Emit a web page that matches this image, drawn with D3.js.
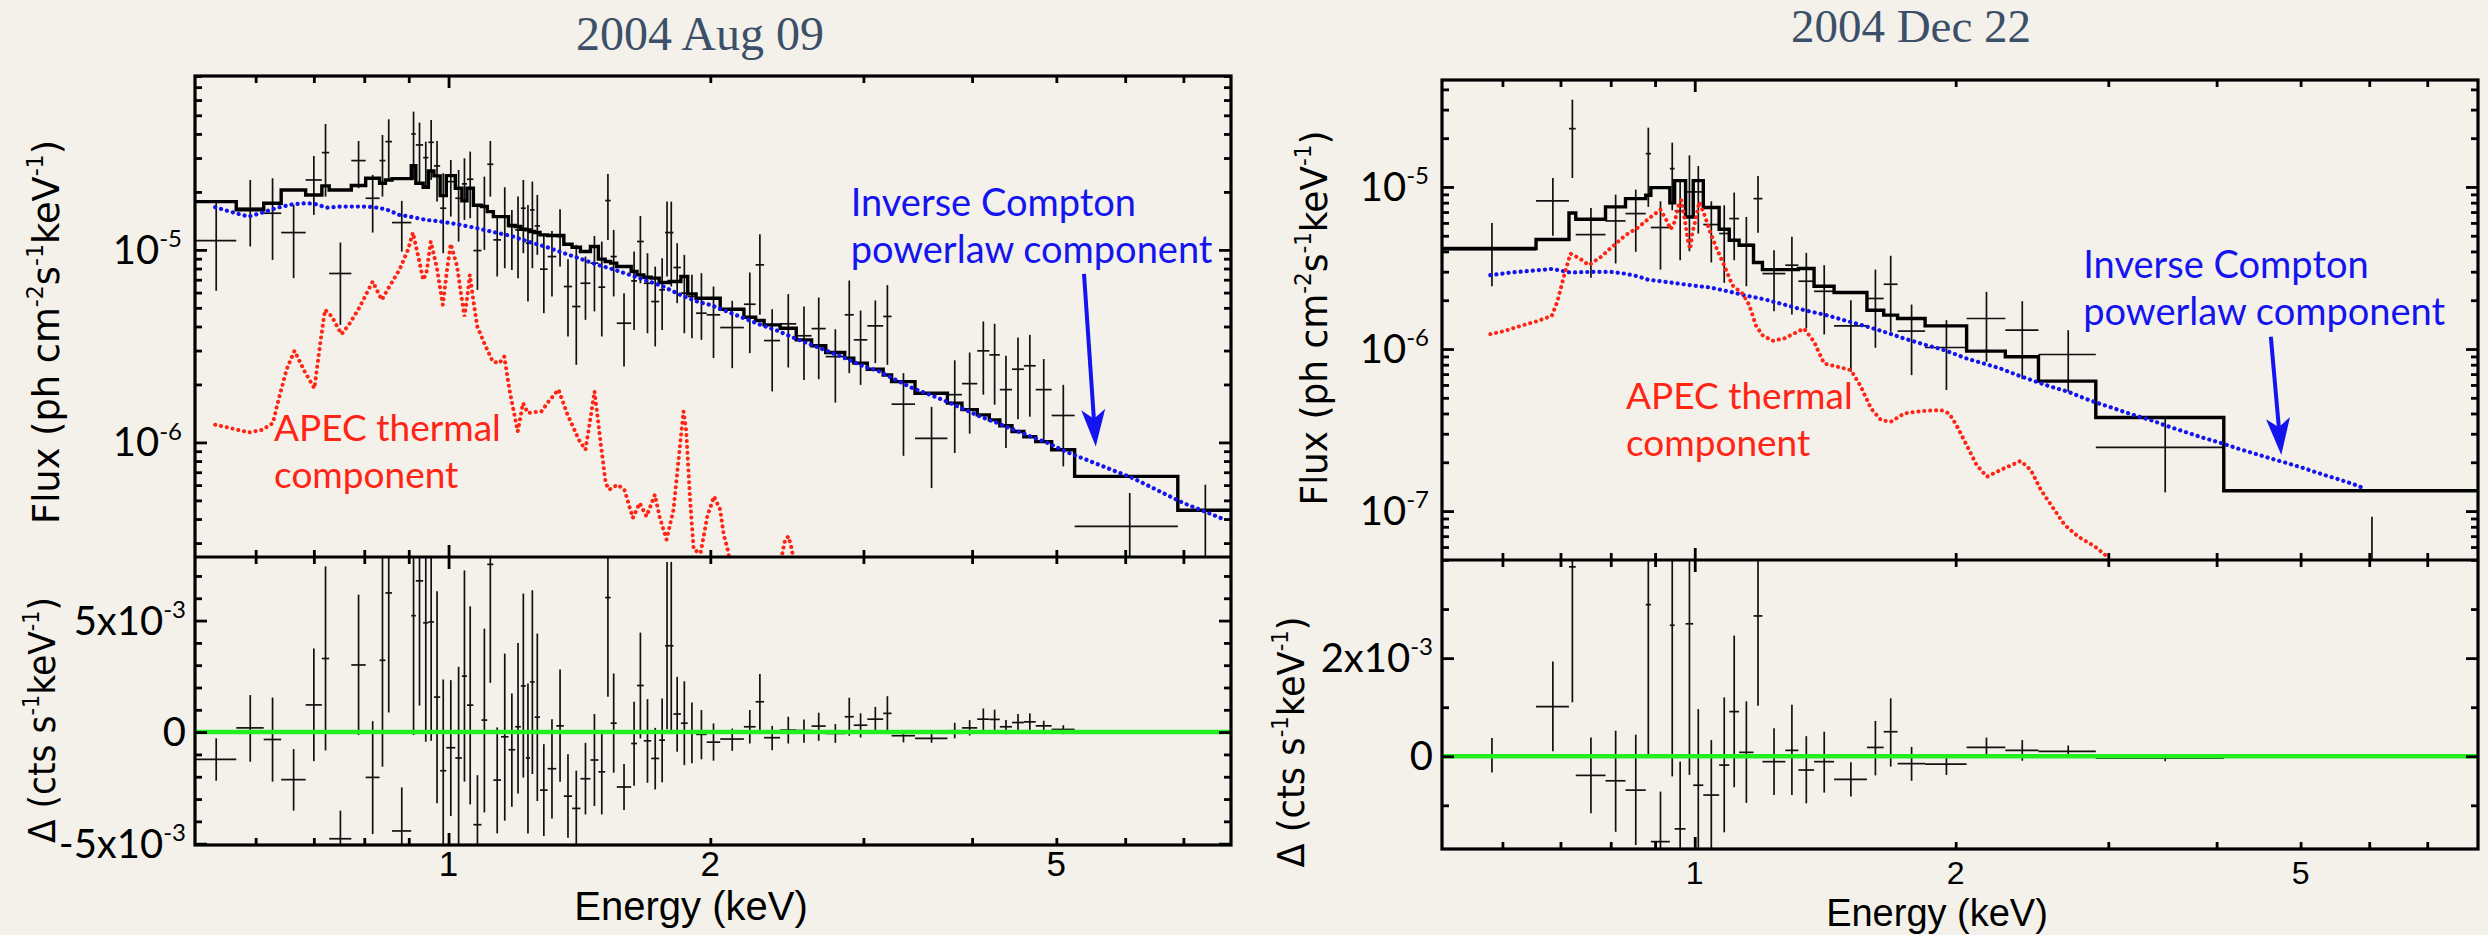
<!DOCTYPE html>
<html>
<head>
<meta charset="utf-8">
<script src="https://cdn.jsdelivr.net/npm/d3@7"></script>
<style>
  body { margin: 0; background: #f4f1ea; }
  svg { display: block; }
</style>
</head>
<body>
<svg id="chart" width="2488" height="935"></svg>
<script>
const FU = 1e-5   // flux arrays: units of 1e-5 ph cm^-2 s^-1 keV^-1
const RU = 1e-3   // residual arrays: units of 1e-3 cts s^-1 keV^-1

// ---------- 2004 Aug 09 ----------
const augEdges = [0.511, 0.570, 0.613, 0.642, 0.685, 0.715, 0.729, 0.773, 0.803, 0.833, 0.846, 0.861, 0.906, 0.917, 0.935, 0.948, 0.962, 0.978, 0.994, 1.018,
  1.036, 1.050, 1.068, 1.091, 1.108, 1.126, 1.149, 1.172, 1.193, 1.211, 1.227, 1.241, 1.256, 1.274, 1.300, 1.330, 1.357, 1.387, 1.418, 1.456,
  1.487, 1.514, 1.536, 1.561, 1.622, 1.647, 1.677, 1.710, 1.747, 1.774, 1.793, 1.814, 1.850, 1.884, 1.926, 1.981, 2.053, 2.186, 2.255, 2.306,
  2.406, 2.511, 2.615, 2.715, 2.855, 2.924, 3.031, 3.161, 3.232, 3.439, 3.747, 3.894, 4.055, 4.187, 4.305, 4.446, 4.588, 4.734, 4.938, 5.248,
  6.897, 7.94]
const augModel = [1.781, 1.613, 1.747, 2.048, 1.929, 2.149, 2.048, 2.158, 2.355, 2.218, 2.308, 2.346, 2.740, 2.218, 2.115, 2.570, 2.422, 1.914, 2.431, 2.090,
  1.796, 2.090, 1.705, 1.679, 1.581, 1.489, 1.489, 1.338, 1.322, 1.280, 1.270, 1.245, 1.230, 1.196, 1.187, 1.187, 1.070, 1.032, 0.980, 1.041,
  0.895, 0.870, 0.853, 0.819, 0.772, 0.742, 0.721, 0.713, 0.677, 0.677, 0.685, 0.685, 0.727, 0.591, 0.561, 0.561, 0.492, 0.447, 0.430, 0.408,
  0.392, 0.341, 0.318, 0.293, 0.274, 0.258, 0.240, 0.224, 0.207, 0.180, 0.160, 0.148, 0.139, 0.131, 0.122, 0.114, 0.107, 0.101, 0.0916, 0.0666, 0.0444]
const augFlux = [1.118, 1.646, 1.550, 1.230, 2.308, 3.200, 0.754, 2.909, 1.854, 2.909, 3.650, 1.386, 4.000, 3.508, 3.014, 3.621, 2.729, 1.646, 2.262, 1.854,
  2.201, 2.327, 0.992, 1.679, 2.784, 1.127, 1.489, 1.322, 1.270, 1.646, 1.083, 1.613, 1.332, 0.794, 0.923, 1.173, 0.645, 0.508, 0.671, 0.853,
  0.640, 1.803, 0.923, 0.416, 0.690, 1.105, 0.671, 0.539, 0.620, 1.230, 1.230, 0.810, 0.596, 0.573, 0.469, 0.460, 0.395, 0.522, 0.836, 0.338,
  0.413, 0.358, 0.390, 0.279, 0.460, 0.341, 0.403, 0.451, 0.158, 0.105, 0.177, 0.202, 0.299, 0.285, 0.188, 0.240, 0.250, 0.188, 0.138, 0.0366, 0.0098]
const augFluxHi = [1.781, 2.308, 2.355, 1.712, 3.075, 4.508, 1.092, 3.679, 2.451, 3.953, 4.765, 1.796, 5.224, 4.580, 3.650, 4.729, 3.679, 2.500, 2.932, 2.602,
  2.991, 3.239, 1.679, 2.402, 3.679, 1.489, 2.115, 1.613, 1.891, 2.308, 1.712, 2.262, 1.929, 1.206, 1.255, 1.626, 0.895, 1.062, 0.923, 1.182,
  1.105, 2.480, 1.270, 0.596, 0.980, 1.501, 0.961, 0.819, 0.905, 1.781, 1.781, 1.083, 0.942, 0.742, 0.757, 0.645, 0.544, 0.763, 1.206, 0.492,
  0.589, 0.508, 0.566, 0.387, 0.693, 0.484, 0.546, 0.656, 0.229, 0.153, 0.267, 0.293, 0.425, 0.413, 0.282, 0.351, 0.362, 0.271, 0.199, 0.0546, 0.0603]
const augFluxLo = [0.613, 1.041, 0.887, 0.713, 1.519, 1.891, 0.408, 2.090, 1.230, 1.891, 2.308, 0.980, 2.308, 2.174, 2.090, 2.308, 1.781, 0.961, 1.489, 1.105,
  1.431, 1.460, 0.620, 1.000, 1.891, 0.727, 0.803, 0.787, 0.713, 0.961, 0.539, 0.803, 0.942, 0.469, 0.573, 0.819, 0.355, 0.253, 0.433, 0.479,
  0.355, 1.127, 0.573, 0.248, 0.384, 0.671, 0.369, 0.315, 0.384, 0.727, 0.645, 0.529, 0.369, 0.348, 0.341, 0.274, 0.243, 0.291, 0.460, 0.184,
  0.245, 0.211, 0.213, 0.161, 0.229, 0.199, 0.258, 0.253, 0.0852, 0.0579, 0.0881, 0.111, 0.177, 0.157, 0.0935, 0.132, 0.136, 0.102, 0.0751, 0.0147, 0.003]
const augRes = [-1.22, 0.19, -0.33, -2.13, 1.22, 3.30, -4.78, 3.01, -2.03, 3.22, 6.24, -4.43, 5.22, 6.78, 4.90, 4.94, 1.57, -1.73, -0.70, -1.16,
  2.51, 1.21, -4.15, 0.54, 7.52, -2.15, -0.21, -0.79, 0.24, 2.07, -1.16, 2.25, 0.67, -2.60, -1.64, 0.28, -2.87, -3.42, -2.09, -1.25,
  -1.78, 6.03, 0.40, -2.46, -0.51, 2.09, -0.39, -1.18, -0.36, 3.87, 3.87, 0.81, 0.40, 0.01, -0.10, -0.45, -0.31, 0.24, 1.36, -0.25,
  0.09, 0.07, 0.27, -0.06, 0.69, 0.31, 0.58, 0.84, -0.16, -0.28, 0.06, 0.19, 0.58, 0.57, 0.24, 0.43, 0.46, 0.28, 0.12, -0.03, -0.01]
const augResHi = [-0.28, 1.66, 1.55, -0.76, 3.75, 7.43, -3.52, 6.16, 0.49, 8.5, 9.5, -2.48, 10.5, 11, 9.5, 9.5, 6.31, 2.36, 2.33, 2.93,
  7.25, 5.64, -1.93, 4.64, 11, 0.21, 3.52, 1.73, 4.00, 6.21, 2.18, 6.36, 4.42, -0.54, 0.58, 2.81, -0.99, -1.73, -0.48, 0.81,
  0.09, 8.5, 2.63, -1.43, 1.36, 4.46, 1.48, 0.19, 1.51, 7.63, 7.63, 2.48, 2.28, 1.33, 0.99, 0.39, 0.16, 0.99, 2.60, 0.28,
  0.69, 0.57, 0.87, 0.36, 1.54, 0.84, 1.13, 1.61, 0.09, -0.06, 0.42, 0.54, 1.06, 1.01, 0.54, 0.81, 0.84, 0.51, 0.31, 0.01, 0.01]
const augResLo = [-2.18, -1.33, -2.22, -3.52, -1.30, -0.82, -6.5, -0.13, -4.57, -1.55, 0.88, -6.5, -0.13, 1.19, -0.43, -0.39, -3.19, -6.5, -3.76, -6.5,
  -2.22, -3.24, -6.5, -3.60, 2.21, -4.54, -3.97, -3.34, -2.75, -2.04, -4.54, -1.88, -3.09, -4.66, -3.87, -2.22, -4.73, -5.06, -3.69, -3.31,
  -3.69, 1.58, -1.82, -3.49, -2.40, -0.28, -2.27, -2.57, -2.25, 0.13, 0.09, -0.88, -1.48, -1.40, -1.22, -1.28, -0.84, -0.51, 0.09, -0.81,
  -0.51, -0.48, -0.39, -0.48, -0.16, -0.24, 0.04, 0.04, -0.46, -0.48, -0.28, -0.15, 0.09, 0.09, -0.10, 0.06, 0.09, 0.04, -0.09, -0.07, -0.03]
const augPowE = [0.539, 0.566, 0.589, 0.611, 0.636, 0.662, 0.687, 0.702, 0.724, 0.754, 0.789, 0.818, 0.847, 0.878, 0.910, 0.943, 0.987, 1.032, 1.079, 1.128,
  1.180, 1.234, 1.291, 1.350, 1.412, 1.476, 1.544, 1.615, 1.689, 1.766, 1.847, 1.932, 1.999, 2.090, 2.186, 2.286, 2.390, 2.500, 2.615, 2.734,
  2.859, 2.990, 3.127, 3.270, 3.420, 3.577, 3.741, 3.912, 4.091, 4.279, 4.474, 4.679, 4.893, 5.118, 5.352, 5.597, 5.853, 6.121, 6.401, 6.694,
  7.001, 7.320, 7.727]
const augPowF = [1.665, 1.562, 1.489, 1.562, 1.658, 1.726, 1.747, 1.733, 1.658, 1.679, 1.679, 1.672, 1.626, 1.519, 1.478, 1.431, 1.397, 1.348, 1.296, 1.235,
  1.182, 1.105, 1.041, 0.969, 0.905, 0.843, 0.794, 0.742, 0.693, 0.645, 0.584, 0.539, 0.518, 0.479, 0.442, 0.408, 0.380, 0.348, 0.321, 0.297,
  0.274, 0.250, 0.234, 0.211, 0.191, 0.177, 0.163, 0.149, 0.136, 0.126, 0.116, 0.107, 0.0992, 0.0898, 0.0829, 0.0766, 0.0707, 0.0653, 0.0591, 0.0535,
  0.0484, 0.0447, 0.0405]
const augApecE = [0.539, 0.561, 0.589, 0.611, 0.628, 0.636, 0.651, 0.665, 0.683, 0.701, 0.712, 0.721, 0.734, 0.753, 0.768, 0.789, 0.818, 0.838, 0.855, 0.878,
  0.898, 0.910, 0.923, 0.935, 0.943, 0.954, 0.969, 0.985, 0.996, 1.006, 1.023, 1.032, 1.043, 1.051, 1.058, 1.069, 1.079, 1.099, 1.124, 1.144,
  1.159, 1.175, 1.201, 1.218, 1.234, 1.279, 1.303, 1.338, 1.368, 1.412, 1.437, 1.457, 1.472, 1.496, 1.516, 1.530, 1.565, 1.593, 1.629, 1.659,
  1.689, 1.727, 1.750, 1.781, 1.814, 1.863, 1.876, 1.897, 1.914, 1.949, 1.984, 2.020, 2.053, 2.071, 2.099, 2.128, 2.348, 2.412, 2.438, 2.460,
  2.477, 2.495, 2.545]
const augApecF = [0.1235, 0.1187, 0.1127, 0.1163, 0.126, 0.160, 0.238, 0.299, 0.234, 0.191, 0.328, 0.488, 0.451, 0.365, 0.408, 0.498, 0.685, 0.550, 0.645, 0.787,
  1.000, 1.230, 0.923, 0.699, 0.757, 1.105, 0.819, 0.518, 0.787, 1.074, 0.819, 0.620, 0.451, 0.573, 0.742, 0.529, 0.400, 0.328, 0.263, 0.258,
  0.279, 0.188, 0.114, 0.160, 0.142, 0.145, 0.163, 0.188, 0.142, 0.1032, 0.0916, 0.136, 0.184, 0.0992, 0.0615, 0.0568, 0.0603, 0.0568, 0.0405, 0.0484,
  0.0413, 0.0535, 0.0405, 0.0313, 0.0447, 0.145, 0.116, 0.0484, 0.0277, 0.0266, 0.0413, 0.0524, 0.0447, 0.0338, 0.0266, 0.0147, 0.0147, 0.0246, 0.0313, 0.0325,
  0.0288, 0.0246, 0.0147]

// ---------- 2004 Dec 22 ----------
const decEdges = [0.511, 0.656, 0.716, 0.729, 0.789, 0.832, 0.878, 0.890, 0.936, 0.948, 0.976, 0.996, 1.023, 1.067, 1.096, 1.125, 1.169, 1.197, 1.272, 1.317,
  1.373, 1.448, 1.580, 1.652, 1.714, 1.844, 2.059, 2.282, 2.492, 2.902, 4.077, 8.01]
const decModel = [0.417, 0.474, 0.691, 0.632, 0.753, 0.847, 0.888, 0.991, 0.797, 1.094, 0.653, 1.094, 0.746, 0.548, 0.469, 0.437, 0.342, 0.309, 0.309, 0.314,
  0.244, 0.223, 0.1736, 0.1618, 0.1543, 0.139, 0.0970, 0.0895, 0.0634, 0.0378, 0.01336]
const decFlux = [0.41, 0.820, 2.289, 0.508, 0.617, 0.685, 1.605, 0.562, 1.297, 0.711, 0.932, 0.932, 0.586, 0.516, 0.638, 0.441, 0.847, 0.292, 0.329, 0.262,
  0.227, 0.139, 0.205, 0.251, 0.129, 0.1022, 0.1543, 0.1307, 0.0925, 0.0247, 0.0025]
const decFluxHi = [0.600, 1.136, 3.455, 0.742, 0.897, 0.963, 2.322, 0.816, 1.876, 1.084, 1.567, 1.347, 0.816, 0.771, 0.923, 0.653, 1.169, 0.407, 0.492, 0.392,
  0.329, 0.200, 0.309, 0.376, 0.188, 0.1507, 0.2253, 0.1973, 0.1307, 0.0373, 0.00924]
const decFluxLo = [0.244, 0.499, 1.136, 0.275, 0.337, 0.3975, 0.753, 0.309, 0.718, 0.353, 0.401, 0.516, 0.342, 0.256, 0.353, 0.244, 0.521, 0.171, 0.163, 0.134,
  0.123, 0.0724, 0.1017, 0.1277, 0.0690, 0.0558, 0.0834, 0.0652, 0.0545, 0.01304, 0.0005]
const decRes = [0.00, 1.01, 3.86, -0.39, -0.50, -0.69, 3.09, -1.74, 2.67, -1.48, 2.70, -0.59, -0.79, -0.18, 0.91, 0.08, 2.86, -0.11, 0.12, -0.28,
  -0.11, -0.47, 0.18, 0.50, -0.15, -0.16, 0.18, 0.12, 0.10, -0.04, 0.00]
const decResHi = [0.37, 1.93, 4.5, 0.38, 0.52, 0.44, 4.5, -0.72, 4.5, -0.11, 4.5, 0.96, 0.33, 1.20, 2.46, 1.12, 4.5, 0.57, 1.05, 0.41,
  0.50, -0.12, 0.72, 1.18, 0.19, 0.04, 0.38, 0.33, 0.22, 0.03, 0.02]
const decResLo = [-0.33, 0.10, 1.10, -1.16, -1.54, -1.81, 0.04, -2.3, -0.41, -2.3, -0.38, -2.3, -2.2, -1.55, -0.63, -0.95, 1.03, -0.79, -0.79, -0.96,
  -0.74, -0.82, -0.39, -0.21, -0.50, -0.38, 0.04, -0.09, 0.03, -0.10, -0.02]
const decPowE = [0.581, 0.613, 0.647, 0.685, 0.719, 0.759, 0.800, 0.829, 0.859, 0.882, 0.938, 0.989, 1.043, 1.100, 1.140, 1.202, 1.268, 1.337, 1.410, 1.487,
  1.569, 1.654, 1.744, 1.840, 1.941, 2.059, 2.154, 2.252, 2.356, 2.464, 2.577, 2.696, 2.819, 2.950, 3.085, 3.226, 3.374, 3.529, 3.693, 3.862,
  4.039, 4.224, 4.418, 4.621, 4.833, 5.057, 5.289, 5.532, 5.785, 5.918]
const decPowF = [0.2854, 0.2964, 0.3035, 0.3122, 0.2964, 0.2992, 0.2992, 0.2922, 0.2813, 0.2684, 0.2572, 0.2476, 0.2395, 0.2253, 0.2149, 0.2030, 0.1882, 0.1737, 0.1632, 0.1507,
  0.1390, 0.1277, 0.1161, 0.1066, 0.0984, 0.0874, 0.0814, 0.0759, 0.0690, 0.0634, 0.0585, 0.0545, 0.0495, 0.0455, 0.0420, 0.0388, 0.0361, 0.0331, 0.0306, 0.0283,
  0.0264, 0.0244, 0.0227, 0.0211, 0.0197, 0.0183, 0.0169, 0.0157, 0.0145, 0.0138]
const decApecE = [0.581, 0.602, 0.630, 0.658, 0.684, 0.694, 0.707, 0.719, 0.739, 0.755, 0.779, 0.807, 0.832, 0.859, 0.890, 0.913, 0.930, 0.938, 0.948, 0.959,
  0.965, 0.972, 0.982, 0.988, 0.994, 1.003, 1.012, 1.025, 1.043, 1.062, 1.081, 1.105, 1.135, 1.156, 1.176, 1.197, 1.229, 1.268, 1.302, 1.337,
  1.373, 1.410, 1.461, 1.514, 1.555, 1.597, 1.640, 1.684, 1.744, 1.824, 1.923, 1.966, 2.004, 2.059, 2.115, 2.173, 2.252, 2.377, 2.442, 2.508,
  2.577, 2.672, 2.770, 2.897, 2.976, 3.058]
const decApecF = [0.1235, 0.1288, 0.139, 0.1485, 0.1602, 0.1954, 0.2854, 0.388, 0.358, 0.329, 0.370, 0.437, 0.504, 0.559, 0.653, 0.725, 0.608, 0.548, 0.608, 0.789,
  0.828, 0.669, 0.469, 0.413, 0.528, 0.638, 0.808, 0.685, 0.516, 0.407, 0.329, 0.2476, 0.220, 0.1864, 0.1403, 0.1217, 0.1123, 0.1161, 0.1247, 0.1338,
  0.1108, 0.0814, 0.0777, 0.0741, 0.0585, 0.0430, 0.0364, 0.0356, 0.0400, 0.0414, 0.0420, 0.0400, 0.0339, 0.0255, 0.0192, 0.0163, 0.0179, 0.0204, 0.0179, 0.0135,
  0.0109, 0.0082, 0.00695, 0.00603, 0.00536, 0.00423]

// axis ranges and tick labels
const augXDomain = [0.511, 7.94], decXDomain = [0.511, 8.01]
const augFluxDomain = [2.54e-7, 8.0e-5], decFluxDomain = [4.99e-8, 4.57e-5]
const augResDomain = [-5.06e-3, 7.85e-3], decResDomain = [-1.89e-3, 4.0e-3]
const augFluxTicks = [[1e-6, "10", "-6"], [1e-5, "10", "-5"]]
const decFluxTicks = [[1e-7, "10", "-7"], [1e-6, "10", "-6"], [1e-5, "10", "-5"]]
const augResTicks = [[-5e-3, "-5x10", "-3"], [0, "0", ""], [5e-3, "5x10", "-3"]]
const decResTicks = [[0, "0", ""], [2e-3, "2x10", "-3"]]
const augResMinor = [-4e-3, -3e-3, -2e-3, -1e-3, 1e-3, 2e-3, 3e-3, 4e-3, 6e-3, 7e-3]
const decResMinor = [-1e-3, 1e-3, 3e-3]
const energyTicks = [[1, "1"], [2, "2"], [5, "5"]]
const energyMajor = [1]
const energyMinor = [0.6, 0.7, 0.8, 0.9, 2, 3, 4, 5, 6, 7]

const fluxLabel = [["Flux (ph cm", 0], ["-2", 1], ["s", 0], ["-1", 1], ["keV", 0], ["-1", 1], [")", 0]]
const resLabel = [["\u0394 (cts s", 0], ["-1", 1], ["keV", 0], ["-1", 1], [")", 0]]
const icText = ["Inverse Compton", "powerlaw component"]
const apecText = ["APEC thermal", "component"]

const BLUE = "#1414ee", RED = "#ff2414", GREEN = "#22ee22"
const SANS = "Lato, 'Liberation Sans', sans-serif"
const AXSANS = "'Liberation Sans', Arial, sans-serif"

const panels = [
  {title: "2004 Aug 09", titleX: 700, titleY: 50, titleSize: 48,
   edges: augEdges, model: augModel, flux: augFlux, fluxHi: augFluxHi, fluxLo: augFluxLo,
   res: augRes, resHi: augResHi, resLo: augResLo,
   powE: augPowE, powF: augPowF, apecE: augApecE, apecF: augApecF,
   xDomain: augXDomain, fluxDomain: augFluxDomain, resDomain: augResDomain,
   fluxTicks: augFluxTicks, resTicks: augResTicks, resMinor: augResMinor,
   left: 195, right: 1231, top: 76, mid: 557, bottom: 845,
   xLabelY: 876, xTickSize: 35, eLabelX: 691, eLabelY: 920, eLabelSize: 40,
   fluxLabelX: 59, fluxLabelY: 332, fluxLabelLen: 384, resLabelX: 55, resLabelY: 720, resLabelLen: 246,
   ic: [2.90, 1.50e-5], apec: [0.630, 1.012e-6], arrow: [[5.38, 7.50e-6], [5.55, 9.53e-7]]},
  {title: "2004 Dec 22", titleX: 1911, titleY: 42, titleSize: 47,
   edges: decEdges, model: decModel, flux: decFlux, fluxHi: decFluxHi, fluxLo: decFluxLo,
   res: decRes, resHi: decResHi, resLo: decResLo,
   powE: decPowE, powF: decPowF, apecE: decApecE, apecF: decApecF,
   xDomain: decXDomain, fluxDomain: decFluxDomain, resDomain: decResDomain,
   fluxTicks: decFluxTicks, resTicks: decResTicks, resMinor: decResMinor,
   left: 1442, right: 2478, top: 80, mid: 560, bottom: 849,
   xLabelY: 884, xTickSize: 32, eLabelX: 1937, eLabelY: 926, eLabelSize: 38,
   fluxLabelX: 1327, fluxLabelY: 318, fluxLabelLen: 375, resLabelX: 1304, resLabelY: 742, resLabelLen: 251,
   ic: [2.807, 2.75e-6], apec: [0.833, 4.24e-7], arrow: [[4.62, 1.19e-6], [4.75, 2.22e-7]]}
]

let svg = d3.select("#chart")
svg.append("rect").attr("width", 2488).attr("height", 935).attr("fill", "#f4f1ea")
let defs = svg.append("defs")

function addParts(t, parts, size) {
  let raised = false
  parts.forEach(([s, sup]) => {
    let ts = t.append("tspan").text(s)
    if (sup) {
      ts.attr("font-size", size * 0.6)
      if (!raised) { ts.attr("dy", -size * 0.42); raised = true }
    } else if (raised) {
      ts.attr("dy", size * 0.42); raised = false
    }
  })
}

function tickMarks(axis, scale, values, len, tx, ty) {
  svg.append("g")
    .attr("transform", "translate(" + tx + "," + ty + ")")
    .call(axis(scale).tickValues(values).tickSize(-len).tickFormat(""))
    .call(a => a.select(".domain").remove())
    .call(a => a.selectAll("text").remove())
    .call(a => a.selectAll("line").attr("stroke", "#000").attr("stroke-width", 2.8))
}

function drawPanel(p, k) {
  let x = d3.scaleLog().domain(p.xDomain).range([p.left, p.right])
  let y = d3.scaleLog().domain(p.fluxDomain).range([p.mid, p.top])
  let r = d3.scaleLinear().domain(p.resDomain).range([p.bottom, p.mid])

  defs.append("clipPath").attr("id", "cu" + k).append("rect")
    .attr("x", p.left).attr("y", p.top).attr("width", p.right - p.left).attr("height", p.mid - p.top)
  defs.append("clipPath").attr("id", "cl" + k).append("rect")
    .attr("x", p.left).attr("y", p.mid).attr("width", p.right - p.left).attr("height", p.bottom - p.mid)

  let bins = p.flux.map((f, i) => ({
    e0: p.edges[i], e1: p.edges[i + 1], c: (p.edges[i] + p.edges[i + 1]) / 2,
    f: f, fh: p.fluxHi[i], fl: p.fluxLo[i], m: p.model[i],
    rv: p.res[i], rh: p.resHi[i], rl: p.resLo[i]
  }))

  // ---- upper: spectrum ----
  let up = svg.append("g").attr("clip-path", "url(#cu" + k + ")")
  let cu = up.append("g").attr("stroke", "#111").attr("stroke-width", 1.7)
  cu.selectAll(".h").data(bins).join("line").attr("class", "h")
    .attr("x1", d => x(d.e0)).attr("x2", d => x(d.e1))
    .attr("y1", d => y(d.f * FU)).attr("y2", d => y(d.f * FU))
  cu.selectAll(".v").data(bins).join("line").attr("class", "v")
    .attr("x1", d => x(d.c)).attr("x2", d => x(d.c))
    .attr("y1", d => y(d.fl * FU)).attr("y2", d => y(d.fh * FU))

  let step = []
  bins.forEach(d => { step.push([d.e0, d.m], [d.e1, d.m]) })
  up.append("path").datum(step)
    .attr("d", d3.line(d => x(d[0]), d => y(d[1] * FU)))
    .attr("fill", "none").attr("stroke", "#000").attr("stroke-width", 3.4)

  up.append("path").datum(d3.zip(p.powE, p.powF))
    .attr("d", d3.line(d => x(d[0]), d => y(d[1] * FU)))
    .attr("fill", "none").attr("stroke", BLUE).attr("stroke-width", 4.2)
    .attr("stroke-linecap", "round").attr("stroke-dasharray", "0.1 6")

  up.append("path").datum(d3.zip(p.apecE, p.apecF))
    .attr("d", d3.line(d => x(d[0]), d => y(d[1] * FU)))
    .attr("fill", "none").attr("stroke", RED).attr("stroke-width", 4)
    .attr("stroke-linecap", "round").attr("stroke-dasharray", "0.1 5.8")

  // ---- lower: residuals ----
  let lo = svg.append("g").attr("clip-path", "url(#cl" + k + ")")
  let cl = lo.append("g").attr("stroke", "#111").attr("stroke-width", 1.7)
  cl.selectAll(".h").data(bins).join("line").attr("class", "h")
    .attr("x1", d => x(d.e0)).attr("x2", d => x(d.e1))
    .attr("y1", d => r(d.rv * RU)).attr("y2", d => r(d.rv * RU))
  cl.selectAll(".v").data(bins).join("line").attr("class", "v")
    .attr("x1", d => x(d.c)).attr("x2", d => x(d.c))
    .attr("y1", d => r(d.rl * RU)).attr("y2", d => r(d.rh * RU))
  lo.append("line")
    .attr("x1", p.left).attr("x2", p.right).attr("y1", r(0)).attr("y2", r(0))
    .attr("stroke", GREEN).attr("stroke-width", 4.5)

  // ---- frame and ticks ----
  svg.append("rect").attr("x", p.left).attr("y", p.top)
    .attr("width", p.right - p.left).attr("height", p.bottom - p.top)
    .attr("fill", "none").attr("stroke", "#000").attr("stroke-width", 3.2)
  svg.append("line").attr("x1", p.left).attr("x2", p.right).attr("y1", p.mid).attr("y2", p.mid)
    .attr("stroke", "#000").attr("stroke-width", 3.2)

  ;[[d3.axisTop, p.top], [d3.axisBottom, p.mid], [d3.axisTop, p.mid], [d3.axisBottom, p.bottom]].forEach(([ax, ty]) => {
    tickMarks(ax, x, energyMinor, 7, 0, ty)
    tickMarks(ax, x, energyMajor, 12, 0, ty)
  })
  let yt = y.ticks()
  let yMajor = yt.filter(v => Math.abs(Math.log10(v) - Math.round(Math.log10(v))) < 1e-6)
  let yMinor = yt.filter(v => !yMajor.includes(v))
  ;[[d3.axisLeft, p.left], [d3.axisRight, p.right]].forEach(([ax, tx]) => {
    tickMarks(ax, y, yMinor, 7, tx, 0)
    tickMarks(ax, y, yMajor, 12, tx, 0)
    tickMarks(ax, r, p.resMinor, 7, tx, 0)
    tickMarks(ax, r, p.resTicks.map(t => t[0]), 12, tx, 0)
  })

  // ---- tick labels ----
  p.fluxTicks.forEach(([v, b, s]) => {
    let t = svg.append("text").attr("x", p.left - 13).attr("y", y(v) + 14)
      .attr("text-anchor", "end").attr("font-family", SANS).attr("font-size", 40)
    addParts(t, [[b, 0], [s, 1]], 40)
  })
  p.resTicks.forEach(([v, b, s]) => {
    let t = svg.append("text").attr("x", p.left - 9).attr("y", r(v) + 14)
      .attr("text-anchor", "end").attr("font-family", SANS).attr("font-size", 40)
    addParts(t, s ? [[b, 0], [s, 1]] : [[b, 0]], 40)
  })
  energyTicks.forEach(([v, s]) => {
    svg.append("text").attr("x", x(v)).attr("y", p.xLabelY)
      .attr("text-anchor", "middle").attr("font-family", AXSANS).attr("font-size", p.xTickSize).text(s)
  })

  // ---- axis labels ----
  svg.append("text").attr("x", p.eLabelX).attr("y", p.eLabelY)
    .attr("text-anchor", "middle").attr("font-family", AXSANS).attr("font-size", p.eLabelSize).text("Energy (keV)")
  let fl = svg.append("text")
    .attr("transform", "translate(" + p.fluxLabelX + "," + p.fluxLabelY + ") rotate(-90)")
    .attr("text-anchor", "middle").attr("font-family", "'DejaVu Sans', sans-serif").attr("font-size", 38)
    .attr("textLength", p.fluxLabelLen).attr("lengthAdjust", "spacingAndGlyphs")
  addParts(fl, fluxLabel, 38)
  let rl = svg.append("text")
    .attr("transform", "translate(" + p.resLabelX + "," + p.resLabelY + ") rotate(-90)")
    .attr("text-anchor", "middle").attr("font-family", "'DejaVu Sans', sans-serif").attr("font-size", 38)
    .attr("textLength", p.resLabelLen).attr("lengthAdjust", "spacingAndGlyphs")
  addParts(rl, resLabel, 38)

  // ---- title ----
  svg.append("text").attr("x", p.titleX).attr("y", p.titleY)
    .attr("text-anchor", "middle").attr("font-family", "'Liberation Serif', serif")
    .attr("font-size", p.titleSize).attr("fill", "#3c4f69").text(p.title)

  // ---- annotations ----
  icText.forEach((s, i) => {
    svg.append("text").attr("x", x(p.ic[0])).attr("y", y(p.ic[1]) + i * 47)
      .attr("font-family", SANS).attr("font-size", 38).attr("fill", BLUE).text(s)
  })
  apecText.forEach((s, i) => {
    svg.append("text").attr("x", x(p.apec[0])).attr("y", y(p.apec[1]) + i * 47)
      .attr("font-family", SANS).attr("font-size", 37).attr("fill", RED).text(s)
  })
  let x0 = x(p.arrow[0][0]), y0 = y(p.arrow[0][1]), x1 = x(p.arrow[1][0]), y1 = y(p.arrow[1][1])
  let L = Math.hypot(x1 - x0, y1 - y0), ux = (x1 - x0) / L, uy = (y1 - y0) / L
  let hl = 37, hw = 12
  let bx = x1 - ux * hl, by = y1 - uy * hl
  svg.append("line").attr("x1", x0).attr("y1", y0).attr("x2", x1 - ux * hl * 0.6).attr("y2", y1 - uy * hl * 0.6)
    .attr("stroke", BLUE).attr("stroke-width", 4)
  svg.append("path")
    .attr("d", "M" + x1 + "," + y1 +
      "L" + (bx - uy * hw) + "," + (by + ux * hw) +
      "L" + (x1 - ux * hl * 0.75) + "," + (y1 - uy * hl * 0.75) +
      "L" + (bx + uy * hw) + "," + (by - ux * hw) + "Z")
    .attr("fill", BLUE)
}

panels.forEach((p, k) => drawPanel(p, k))
</script>
</body>
</html>
